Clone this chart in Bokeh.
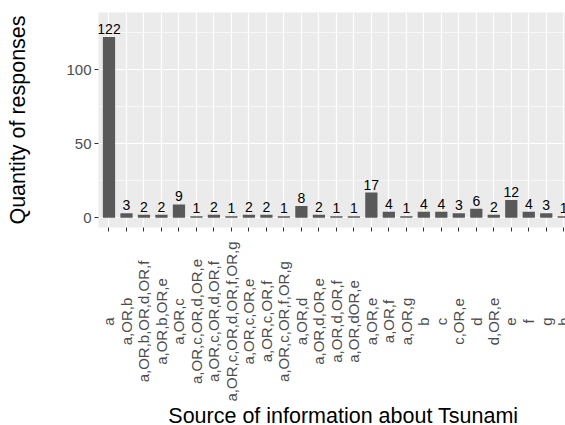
from bokeh.plotting import figure
from bokeh.layouts import column
from bokeh.models import Range1d, FixedTicker, ColumnDataSource
from bokeh.core.properties import value
from bokeh.embed import file_html
from bokeh.resources import INLINE
import math

categories = [
    "a", "a,OR,b", "a,OR,b,OR,d,OR,f", "a,OR,b,OR,e", "a,OR,c",
    "a,OR,c,OR,d,OR,e", "a,OR,c,OR,d,OR,f", "a,OR,c,OR,d,OR,f,OR,g",
    "a,OR,c,OR,e", "a,OR,c,OR,f", "a,OR,c,OR,f,OR,g", "a,OR,d",
    "a,OR,d,OR,e", "a,OR,d,OR,f", "a,OR,dOR,e", "a,OR,e", "a,OR,f",
    "a,OR,g", "b", "c", "c,OR,e", "d", "d,OR,e", "e", "f", "g", "h",
]
counts = [122, 3, 2, 2, 9, 1, 2, 1, 2, 2, 1, 8, 2, 1, 1, 17, 4, 1, 4, 4, 3, 6, 2, 12, 4, 3, 1]
y_ticks = [0, 50, 100]
y_minor = [25, 75, 125]
x_title = "Source of information about Tsunami"
y_title = "Quantity of responses"

xs = list(range(len(categories)))
src = ColumnDataSource(data=dict(x=xs, cat=categories, n=counts,
                                 lbl=[str(c) for c in counts]))

FONT = "Liberation Sans"
W = 565
H1 = 235
H2 = 190
xr = Range1d(-0.6, 26.1)

# ---------------- main panel ----------------
p = figure(width=W, height=H1, output_backend="svg", toolbar_location=None,
           x_range=xr, y_range=Range1d(-6.6, 138.6),
           min_border_left=98, min_border_right=0, min_border_top=12,
           min_border_bottom=8)
p.background_fill_color = "#EBEBEB"
p.border_fill_color = "white"
p.outline_line_color = None

p.vbar(x="x", top="n", width=0.7, source=src, fill_color="#595959",
       line_color=None)
p.text(x="x", y="n", text="lbl", source=src, text_align="center",
       text_baseline="bottom", text_font=value(FONT),
       text_font_size="14px", text_color="black", y_offset=-3)

p.xgrid.grid_line_color = "white"
p.xgrid.grid_line_width = 1.2
p.ygrid.grid_line_color = "white"
p.ygrid.grid_line_width = 1.2
p.ygrid.minor_grid_line_color = "white"
p.ygrid.minor_grid_line_width = 0.6

p.yaxis.ticker = FixedTicker(ticks=y_ticks, minor_ticks=y_minor)
p.yaxis.axis_label = y_title
p.yaxis.axis_label_text_font = FONT
p.yaxis.axis_label_text_font_size = "21.5px"
p.yaxis.axis_label_text_font_style = "normal"
p.yaxis.axis_label_text_color = "black"
p.yaxis.axis_label_standoff = 33
p.yaxis.major_label_text_font = FONT
p.yaxis.major_label_text_font_size = "15px"
p.yaxis.major_label_text_color = "#4D4D4D"
p.yaxis.major_label_standoff = 3
p.yaxis.axis_line_color = None
p.yaxis.major_tick_in = 0
p.yaxis.major_tick_out = 4
p.yaxis.major_tick_line_color = "#333333"
p.yaxis.minor_tick_line_color = None

p.xaxis.ticker = FixedTicker(ticks=xs)
p.xaxis.major_label_overrides = {i: "" for i in xs}
p.xaxis.major_label_text_font_size = "0px"
p.xaxis.major_label_standoff = 0
p.xaxis.axis_line_color = None
p.xaxis.major_tick_in = 0
p.xaxis.major_tick_out = 4
p.xaxis.major_tick_line_color = "#333333"
p.xaxis.minor_tick_line_color = None

# ---------------- category labels + x title strip ----------------
q = figure(width=W, height=H2, output_backend="svg", toolbar_location=None,
           x_range=xr, y_range=Range1d(0, H2),
           x_axis_location=None, y_axis_location=None,
           min_border_left=98, min_border_right=0, min_border_top=0,
           min_border_bottom=0)
q.grid.visible = False
q.outline_line_color = None
q.background_fill_color = "white"
q.border_fill_color = "white"

q.text(x="x", y=104, text="cat", source=src, angle=math.pi / 2,
       text_align="center", text_baseline="middle", text_font=value(FONT),
       text_font_size="15px", text_color="#4D4D4D")
q.text(x=[13.4], y=[9.5], text=[x_title], text_align="center",
       text_baseline="middle", text_font=value(FONT),
       text_font_size="21.5px", text_color="black")

layout = column(p, q, spacing=0)
open("out.html", "w").write(file_html(layout, INLINE))
